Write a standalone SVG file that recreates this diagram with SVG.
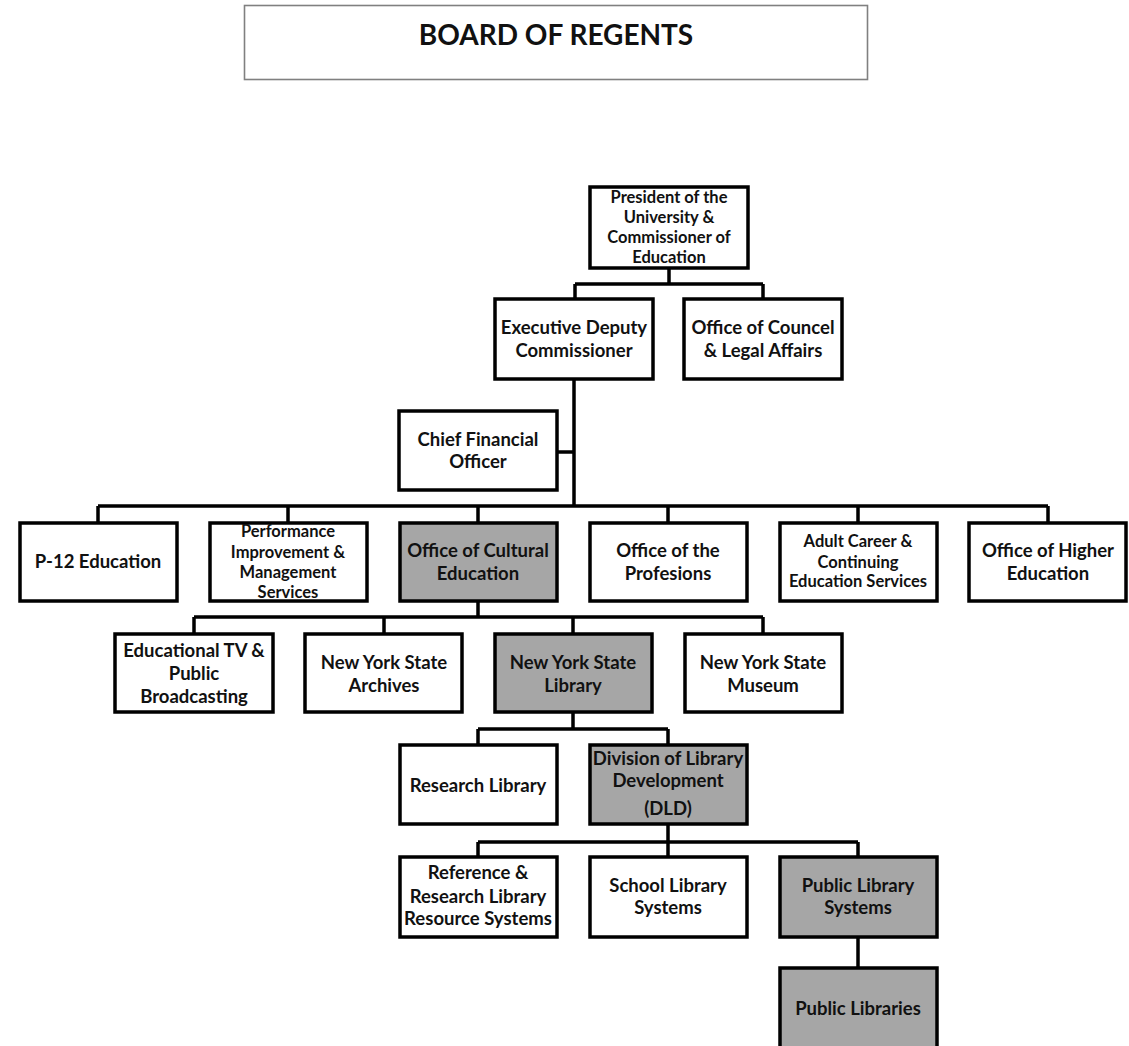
<svg xmlns="http://www.w3.org/2000/svg" width="1129" height="1046" viewBox="0 0 1129 1046">
<style>
.box{fill:#fff;stroke:#000;stroke-width:3.5}
.hl{fill:#a6a6a6;stroke:#000;stroke-width:3.5}
.t{font-family:Lato,"Open Sans",sans-serif;font-weight:bold;font-size:18.5px;fill:#111;text-anchor:middle}
.s{font-size:16.5px}
.c{fill:none;stroke:#000;stroke-width:3.5}
</style>
<rect width="1129" height="1046" fill="#fff"/>
<g id="board">
<rect x="244.5" y="5.5" width="623" height="74" fill="#fff" stroke="#808080" stroke-width="1.6"/>
<text class="t" x="556" y="45" style="font-size:28px">BOARD OF REGENTS</text>
</g>
<g id="connectors">
<path class="c" d="M669 268V284M575 284H763M575 284V299M763 284V299"/>
<path class="c" d="M574 379V506M557 452H574"/>
<path class="c" d="M98 506H1048M98 506V523M288 506V523M478 506V523M668 506V523M858 506V523M1048 506V523"/>
<path class="c" d="M478 602V617M194 617H763M194 617V634M384 617V634M573 617V634M763 617V634"/>
<path class="c" d="M573 712V729M478 729H668M478 729V745M668 729V745"/>
<path class="c" d="M668 824V842M478 842H858M478 842V857M668 842V857M858 842V857"/>
<path class="c" d="M858 937V968"/>
</g>
<g id="president">
<rect class="box" x="590" y="187" width="158" height="81"/>
<text class="t s" x="669" y="203">President of the</text>
<text class="t s" x="669" y="223">University &amp;</text>
<text class="t s" x="669" y="243">Commissioner of</text>
<text class="t s" x="669" y="263">Education</text>
</g>
<g id="exec">
<rect class="box" x="495" y="299" width="158" height="80"/>
<text class="t" x="574" y="334">Executive Deputy</text>
<text class="t" x="574" y="357">Commissioner</text>
</g>
<g id="councel">
<rect class="box" x="684" y="299" width="158" height="80"/>
<text class="t" x="763" y="334">Office of Councel</text>
<text class="t" x="763" y="357">&amp; Legal Affairs</text>
</g>
<g id="cfo">
<rect class="box" x="399" y="411" width="158" height="79"/>
<text class="t" x="478" y="446">Chief Financial</text>
<text class="t" x="478" y="468">Officer</text>
</g>
<g id="p12">
<rect class="box" x="20" y="523" width="157" height="78"/>
<text class="t" x="98" y="568">P-12 Education</text>
</g>
<g id="performance">
<rect class="box" x="210" y="523" width="157" height="78"/>
<text class="t s" x="288" y="537">Performance</text>
<text class="t s" x="288" y="558">Improvement &amp;</text>
<text class="t s" x="288" y="578">Management</text>
<text class="t s" x="288" y="598">Services</text>
</g>
<g id="cultural">
<rect class="hl" x="400" y="523" width="157" height="78"/>
<text class="t" x="478" y="557">Office of Cultural</text>
<text class="t" x="478" y="580">Education</text>
</g>
<g id="profesions">
<rect class="box" x="590" y="523" width="157" height="78"/>
<text class="t" x="668" y="557">Office of the</text>
<text class="t" x="668" y="580">Profesions</text>
</g>
<g id="adult">
<rect class="box" x="780" y="523" width="157" height="78"/>
<text class="t s" x="858" y="547">Adult Career &amp;</text>
<text class="t s" x="858" y="568">Continuing</text>
<text class="t s" x="858" y="587">Education Services</text>
</g>
<g id="higher">
<rect class="box" x="969" y="523" width="157" height="78"/>
<text class="t" x="1048" y="557">Office of Higher</text>
<text class="t" x="1048" y="580">Education</text>
</g>
<g id="edtv">
<rect class="box" x="115" y="634" width="158" height="78"/>
<text class="t" x="194" y="657">Educational TV &amp;</text>
<text class="t" x="194" y="680">Public</text>
<text class="t" x="194" y="703">Broadcasting</text>
</g>
<g id="archives">
<rect class="box" x="305" y="634" width="157" height="78"/>
<text class="t" x="384" y="669">New York State</text>
<text class="t" x="384" y="692">Archives</text>
</g>
<g id="nysl">
<rect class="hl" x="495" y="634" width="157" height="78"/>
<text class="t" x="573" y="669">New York State</text>
<text class="t" x="573" y="692">Library</text>
</g>
<g id="museum">
<rect class="box" x="685" y="634" width="157" height="78"/>
<text class="t" x="763" y="669">New York State</text>
<text class="t" x="763" y="692">Museum</text>
</g>
<g id="research">
<rect class="box" x="400" y="745" width="157" height="79"/>
<text class="t" x="478" y="792">Research Library</text>
</g>
<g id="dld">
<rect class="hl" x="590" y="745" width="157" height="79"/>
<text class="t" x="668" y="765">Division of Library</text>
<text class="t" x="668" y="787">Development</text>
<text class="t" x="668" y="815">(DLD)</text>
</g>
<g id="reference">
<rect class="box" x="400" y="857" width="157" height="80"/>
<text class="t" x="478" y="879">Reference &amp;</text>
<text class="t" x="478" y="903">Research Library</text>
<text class="t" x="478" y="925">Resource Systems</text>
</g>
<g id="school">
<rect class="box" x="590" y="857" width="157" height="80"/>
<text class="t" x="668" y="892">School Library</text>
<text class="t" x="668" y="914">Systems</text>
</g>
<g id="pls">
<rect class="hl" x="780" y="857" width="157" height="80"/>
<text class="t" x="858" y="892">Public Library</text>
<text class="t" x="858" y="914">Systems</text>
</g>
<g id="publiclibraries">
<rect class="hl" x="780" y="968" width="157" height="84"/>
<text class="t" x="858" y="1015">Public Libraries</text>
</g>
</svg>
